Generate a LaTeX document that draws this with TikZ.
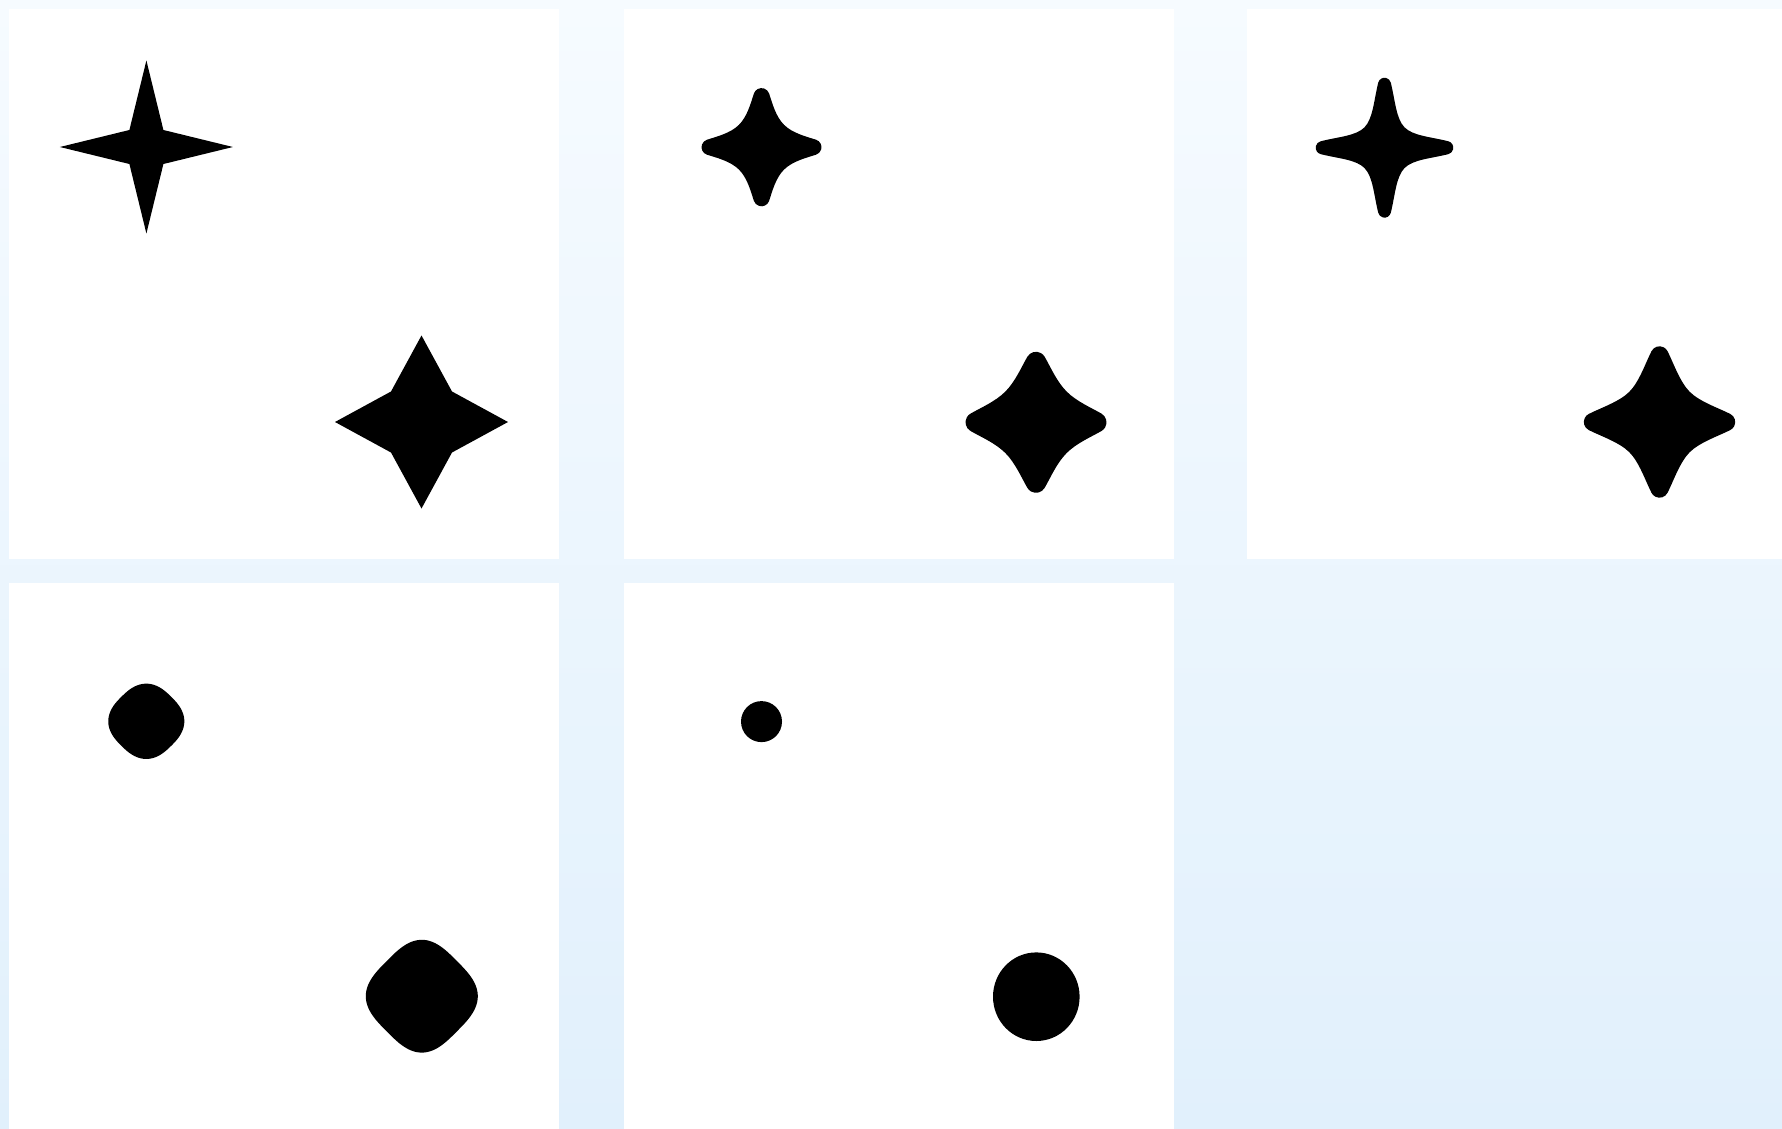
\documentclass[tikz,border=0pt]{standalone}
\usetikzlibrary{calc}
\definecolor{bgtop}{RGB}{246,251,255}
\definecolor{bgbot}{RGB}{225,240,252}
\tikzset{panel/.style={fill=white,draw=none}, shapefill/.style={fill=black,draw=none}}
% cx, cy, yscale, Rtip, tip radius, tip arc half-angle, side handle, inner radius, inner handle
\newcommand{\rstar}[9]{%
\begin{scope}[shift={(#1,#2)},yscale=#3]
\path[shapefill] ($(0:{#4-#5})+(-#6:#5)$)
 \foreach \r in {0,90,180,270}{
   arc[start angle=\r-#6,end angle=\r+#6,radius=#5]
   .. controls +(\r+#6+90:#7) and +(\r-45:#9) .. (\r+45:#8)
   .. controls +(\r+135:#9) and +(\r-#6:#7) .. ($(\r+90:{#4-#5})+(\r+90-#6:#5)$)
 } -- cycle;
\end{scope}}
% rotated superellipse: cx, cy, half-diagonal s, exponent p, yscale
\newcommand{\sellipse}[5]{%
\begin{scope}[shift={(#1,#2)},yscale=#5,rotate=45]
\path[shapefill] plot[domain=0.5:359.5,samples=360,variable=\t]
 ({#3*sign(cos(\t))*abs(cos(\t))^(2/#4)},{#3*sign(sin(\t))*abs(sin(\t))^(2/#4)}) -- cycle;
\end{scope}}
\newcommand{\polystar}[4]{% cx, cy, Rtip, inner offset
  \path[shapefill] (#1-#3,#2) -- (#1-#4,#2-#4) -- (#1,#2-#3) -- (#1+#4,#2-#4)
   -- (#1+#3,#2) -- (#1+#4,#2+#4) -- (#1,#2+#3) -- (#1-#4,#2+#4) -- cycle;}
\begin{document}
\begin{tikzpicture}[x=1pt,y=-1pt]
\useasboundingbox (0,0) rectangle (1782,1129);
\shade[top color=bgtop,bottom color=bgbot] (0,0) rectangle (1782,1129);
% panels
\path[panel] (9,9) rectangle (559,559);
\path[panel] (624,9) rectangle (1174,559);
\path[panel] (1247,9) rectangle (1782,559);
\path[panel] (9,583) rectangle (559,1129);
\path[panel] (624,583) rectangle (1174,1129);
% panel 1: sharp stars
\polystar{146.4}{147}{86.5}{17}
\polystar{421.5}{422}{86.5}{30.5}
% panel 2
\rstar{761.5}{147.2}{0.985}{60}{8}{72}{10}{32}{12}
\rstar{1036}{422.3}{1}{70.5}{10}{60}{12}{43.4}{14}
% panel 3
\rstar{1384.5}{147.7}{1.017}{68.8}{6.5}{76}{18}{28.3}{12}
\rstar{1659.5}{422}{1}{75.7}{9}{63}{13}{42.7}{14}
% panel 4
\sellipse{146.3}{721.3}{35.1}{2.6}{0.99}
\sellipse{421.8}{996.2}{49.5}{3.1}{1.007}
% panel 5
\path[shapefill] (761.5,721.6) circle[radius=20.5];
\path[shapefill] (1036.3,996.7) ellipse[x radius=43.3,y radius=44.3];
\end{tikzpicture}
\end{document}
